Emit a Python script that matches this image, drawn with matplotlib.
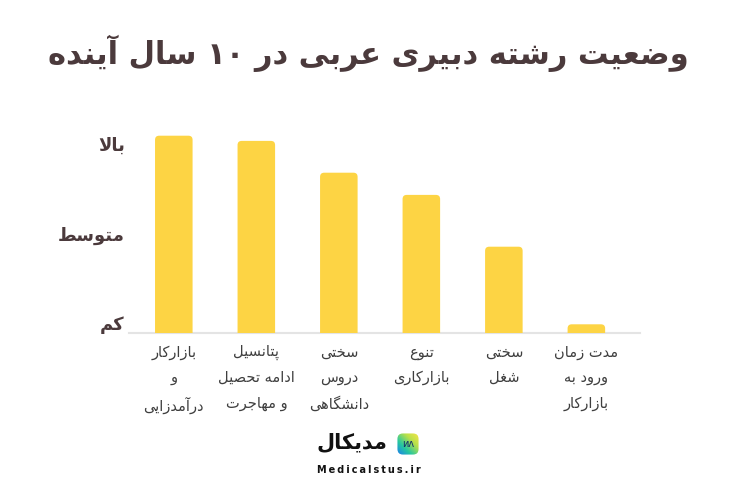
import numpy as np
import matplotlib
matplotlib.use("Agg")
import matplotlib.pyplot as plt
from matplotlib.patches import FancyBboxPatch
from matplotlib.colors import LinearSegmentedColormap

title = "وضعیت رشته دبیری عربی در ۱۰ سال آینده"
categories = [
    "بازارکار\nو\nدرآمدزایی",
    "پتانسیل\nادامه تحصیل\nو مهاجرت",
    "سختی\nدروس\nدانشگاهی",
    "تنوع\nبازارکاری",
    "سختی\nشغل",
    "مدت زمان\nورود به\nبازارکار",
]
values = [98.9, 96.3, 80.4, 69.3, 43.4, 4.6]
level_ticks = [5, 50, 95]
level_labels = ["کم", "متوسط", "بالا"]
logo_name = "مدیکال"
logo_site = "Medicalstus.ir"

# presentation forms: isolated, final, initial, medial (right-joining letters have only 2)
FORMS = {
    'ا': (0xFE8D, 0xFE8E), 'آ': (0xFE81, 0xFE82),
    'ب': (0xFE8F, 0xFE90, 0xFE91, 0xFE92), 'پ': (0xFB56, 0xFB57, 0xFB58, 0xFB59),
    'ت': (0xFE95, 0xFE96, 0xFE97, 0xFE98), 'ث': (0xFE99, 0xFE9A, 0xFE9B, 0xFE9C),
    'ج': (0xFE9D, 0xFE9E, 0xFE9F, 0xFEA0), 'چ': (0xFB7A, 0xFB7B, 0xFB7C, 0xFB7D),
    'ح': (0xFEA1, 0xFEA2, 0xFEA3, 0xFEA4), 'خ': (0xFEA5, 0xFEA6, 0xFEA7, 0xFEA8),
    'د': (0xFEA9, 0xFEAA), 'ذ': (0xFEAB, 0xFEAC), 'ر': (0xFEAD, 0xFEAE),
    'ز': (0xFEAF, 0xFEB0), 'ژ': (0xFB8A, 0xFB8B),
    'س': (0xFEB1, 0xFEB2, 0xFEB3, 0xFEB4), 'ش': (0xFEB5, 0xFEB6, 0xFEB7, 0xFEB8),
    'ص': (0xFEB9, 0xFEBA, 0xFEBB, 0xFEBC), 'ض': (0xFEBD, 0xFEBE, 0xFEBF, 0xFEC0),
    'ط': (0xFEC1, 0xFEC2, 0xFEC3, 0xFEC4), 'ظ': (0xFEC5, 0xFEC6, 0xFEC7, 0xFEC8),
    'ع': (0xFEC9, 0xFECA, 0xFECB, 0xFECC), 'غ': (0xFECD, 0xFECE, 0xFECF, 0xFED0),
    'ف': (0xFED1, 0xFED2, 0xFED3, 0xFED4), 'ق': (0xFED5, 0xFED6, 0xFED7, 0xFED8),
    'ک': (0xFB8E, 0xFB8F, 0xFB90, 0xFB91), 'گ': (0xFB92, 0xFB93, 0xFB94, 0xFB95),
    'ل': (0xFEDD, 0xFEDE, 0xFEDF, 0xFEE0), 'م': (0xFEE1, 0xFEE2, 0xFEE3, 0xFEE4),
    'ن': (0xFEE5, 0xFEE6, 0xFEE7, 0xFEE8), 'ه': (0xFEE9, 0xFEEA, 0xFEEB, 0xFEEC),
    'و': (0xFEED, 0xFEEE), 'ی': (0xFBFC, 0xFBFD, 0xFBFE, 0xFBFF),
}
LAM_ALEF = {'ا': (0xFEFB, 0xFEFC), 'آ': (0xFEF5, 0xFEF6)}


def shape_line(s):
    out = []
    i = 0
    n = len(s)
    while i < n:
        c = s[i]
        if c not in FORMS:
            out.append(c)
            i += 1
            continue
        prev = s[i - 1] if i > 0 else ''
        joins_prev = prev in FORMS and len(FORMS[prev]) == 4
        if c == 'ل' and i + 1 < n and s[i + 1] in LAM_ALEF:
            f = LAM_ALEF[s[i + 1]]
            out.append(chr(f[1] if joins_prev else f[0]))
            i += 2
            continue
        nxt = s[i + 1] if i + 1 < n else ''
        joins_next = len(FORMS[c]) == 4 and nxt in FORMS
        f = FORMS[c]
        if joins_prev and joins_next:
            g = f[3]
        elif joins_prev:
            g = f[1]
        elif joins_next:
            g = f[2]
        else:
            g = f[0]
        out.append(chr(g))
        i += 1
    # reverse for right-to-left, keeping digit runs in order
    runs = []
    for ch in out:
        if runs and ch.isdigit() and runs[-1][0].isdigit():
            runs[-1] += ch
        else:
            runs.append(ch)
    return ''.join(reversed(runs))


def rtl(s):
    return '\n'.join(shape_line(line) for line in s.split('\n'))


plt.rcParams['font.family'] = ['DejaVu Sans']

bar_color = '#FDD444'
dark = '#4B3A3C'
label_color = '#3F3F3F'

fig = plt.figure(figsize=(7.36, 4.9), dpi=100)
fig.patch.set_facecolor('white')
ax = fig.add_axes([129 / 736, 1 - 333.5 / 490, 511 / 736, 213.5 / 490])

x = np.arange(len(values))
bars = ax.bar(x, values, width=0.455, color=bar_color)
for b in bars:
    b.set_visible(False)
    ax.add_patch(FancyBboxPatch((b.get_x(), -5), b.get_width(), b.get_height() + 5,
                                boxstyle="round,pad=0,rounding_size=0.05",
                                mutation_aspect=41.25, facecolor=bar_color,
                                edgecolor='none', zorder=3))

ax.set_xlim(-0.543, 5.65)
ax.set_ylim(0, 106.75)
ax.set_xticks(x)
ax.set_xticklabels([rtl(c) for c in categories], fontsize=10.5, color=label_color,
                   linespacing=1.85, va='top')
ax.set_yticks(level_ticks)
ax.set_yticklabels([rtl(t) for t in level_labels], fontsize=13, color=dark,
                   fontweight='bold')
ax.tick_params(axis='both', length=0)
ax.tick_params(axis='x', pad=8)
ax.tick_params(axis='y', pad=3)
for side in ['top', 'right', 'left']:
    ax.spines[side].set_visible(False)
ax.spines['bottom'].set_color('#E4E4E4')
ax.spines['bottom'].set_linewidth(1.5)

fig.text(368 / 736, 1 - 53 / 490, rtl(title), ha='center', va='center', fontsize=22,
         fontweight='bold', color=dark)

# logo
icon = fig.add_axes([397 / 736, 1 - 455 / 490, 22 / 736, 22 / 490])
logo_cmap = LinearSegmentedColormap.from_list('logo', ['#1E7BF0', '#25C7A0', '#B8E04A', '#F7E64A'])
grad = np.linspace(0, 1, 64)
gx, gy = np.meshgrid(grad, grad)
img = icon.imshow(gx * 0.5 + (1 - gy) * 0.5, cmap=logo_cmap, extent=(0, 1, 0, 1),
                  origin='upper')
clip = FancyBboxPatch((0.02, 0.02), 0.96, 0.96, boxstyle="round,pad=0,rounding_size=0.25",
                      transform=icon.transAxes, facecolor='none', edgecolor='none')
icon.add_patch(clip)
img.set_clip_path(clip)
icon.text(0.5, 0.5, 'ᴎᴧ', ha='center', va='center', fontsize=7, color='#13306B')
icon.axis('off')
fig.text(352 / 736, 1 - 442 / 490, rtl(logo_name), ha='center', va='center',
         fontsize=15, fontweight='bold', color='#111111')
fig.text(369 / 736, 1 - 470 / 490, '\u2009'.join(logo_site),
         ha='center', va='center', fontsize=7, fontweight='bold', color='#111111')

fig.savefig('out.png', dpi=100, facecolor='white')
